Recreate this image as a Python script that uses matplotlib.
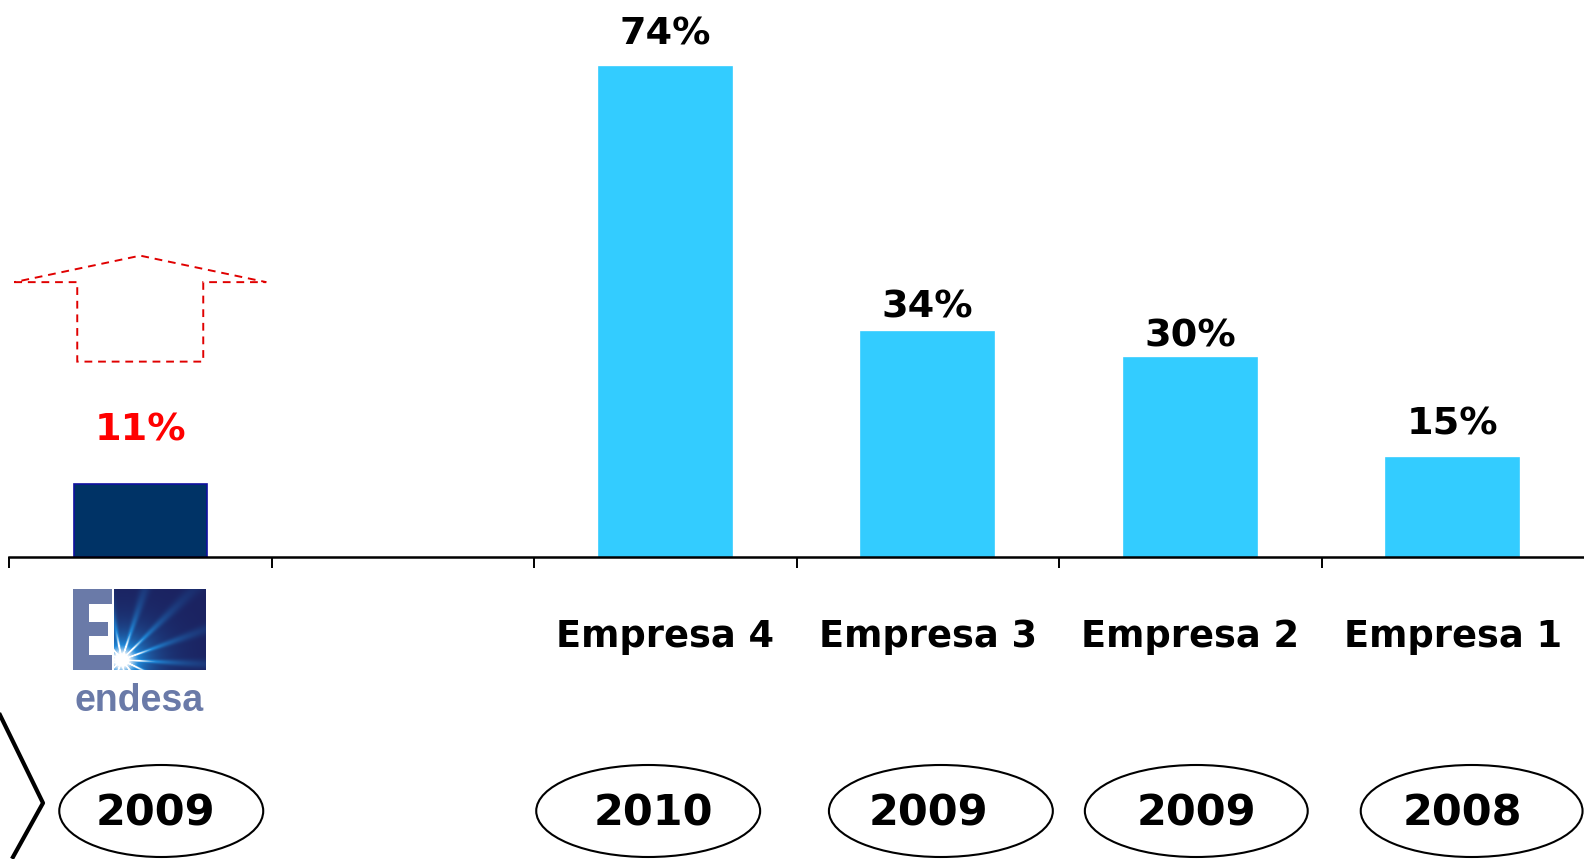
import numpy as np
import matplotlib
matplotlib.use("Agg")
import matplotlib.pyplot as plt
from matplotlib.patches import Ellipse, Rectangle, Polygon
from matplotlib.transforms import blended_transform_factory

# ---- data ----
categories = ["Endesa", "", "Empresa 4", "Empresa 3", "Empresa 2", "Empresa 1"]
values = [11, np.nan, 74, 34, 30, 15]
labels = ["11%", "", "74%", "34%", "30%", "15%"]
years = ["2009", "", "2010", "2009", "2009", "2008"]

# ---- style ----
W, H = 1584, 859
bar_colors = ["#003366", "none", "#33CCFF", "#33CCFF", "#33CCFF", "#33CCFF"]
bar_edges = ["#1010A0", "none", "#33CCFF", "#33CCFF", "#33CCFF", "#33CCFF"]
label_colors = ["#FF0000", "k", "k", "k", "k", "k"]
label_offset_px = [54, 0, 32, 24, 22, 33]
year_dx = [0.08, 0, -0.065, 0.05, 0.023, 0.072]
year_text_dx = [0.057, 0, -0.046, 0.004, 0.023, 0.038]
year_w = [0.777, 0, 0.853, 0.853, 0.849, 0.845]
logo_category = "Endesa"  # shown as a logo instead of a text label

fig = plt.figure(figsize=(W / 100, H / 100), dpi=100)
ax = fig.add_axes([9 / W, 302 / H, 1575 / W, 557 / H])

x = np.arange(len(categories))
ax.bar(x, values, width=0.506, color=bar_colors, edgecolor=bar_edges, linewidth=1.2, zorder=2)
ax.set_xlim(-0.5, 5.5)
ax.set_ylim(0, 84.1)

for spine in ["left", "right", "top"]:
    ax.spines[spine].set_visible(False)
ax.spines["bottom"].set_linewidth(1.8)
ax.set_yticks([])

ax.set_xticks(x)
ax.set_xticklabels(["" if c == logo_category else c for c in categories],
                   fontsize=26.5, fontweight="bold")
ax.tick_params(axis="x", which="major", length=0, pad=44)
ax.set_xticks(np.arange(-0.5, 5.0, 1.0), minor=True)
ax.tick_params(axis="x", which="minor", length=8, width=1.4, direction="out")

for xi, v, lab, c, off in zip(x, values, labels, label_colors, label_offset_px):
    if np.isnan(v):
        continue
    ax.annotate(lab, (xi, v), xytext=(0, off * 0.72), textcoords="offset points",
                ha="center", va="center", fontsize=27.5, fontweight="bold", color=c)

# red dashed up-arrow above the Endesa bar
arrow = Polygon([(-0.48, 41.5), (-0.24, 41.5), (-0.24, 29.5), (0.24, 29.5), (0.24, 41.5),
                 (0.48, 41.5), (0.0, 45.5)], closed=True, fill=False, edgecolor="#E00000",
                linestyle=(0, (4, 3)), linewidth=1.4, clip_on=False)
ax.add_patch(arrow)

# year ellipses
bt = blended_transform_factory(ax.transData, fig.transFigure)
for xi, yr, dx, tdx, ew in zip(x, years, year_dx, year_text_dx, year_w):
    if not yr:
        continue
    e = Ellipse((xi + dx, 1 - 811 / H), width=ew, height=92 / H, transform=bt,
                fill=False, edgecolor="k", linewidth=1.5, clip_on=False)
    ax.add_patch(e)
    ax.text(xi + tdx, 1 - 814 / H, yr, transform=bt, ha="center", va="center",
            fontsize=31, fontweight="bold", clip_on=False)

# helper for figure pixel coords (decorations)
def P(px, py):
    return (px / W, 1 - py / H)

# chevron on the left edge
fig.add_artist(plt.Line2D([0 / W, 43 / W, 13 / W], [1 - 715 / H, 1 - 803 / H, 1 - 857 / H],
                          color="k", linewidth=3, transform=fig.transFigure))

# endesa logo
logo_grey = "#6A7AA8"
def rect(x0, y0, x1, y1, color, z=5):
    fig.add_artist(Rectangle(P(x0, y1), (x1 - x0) / W, (y1 - y0) / H, facecolor=color,
                             edgecolor="none", transform=fig.transFigure, zorder=z))

# glowing navy square
lax = fig.add_axes([114 / W, 1 - 670 / H, 91 / W, 81 / H], zorder=4)
lax.set_axis_off()
gx, gy = np.meshgrid(np.linspace(0, 1, 91), np.linspace(0, 1, 81))
r = np.hypot(gx - 0.08, gy - 0.12)
ang = np.arctan2(gy - 0.12, gx - 0.08)
rays = np.cos(ang * 7 + 0.4) ** 10
glow = np.clip(np.exp(-r * 5.0) * 1.4 + np.exp(-r * 2.0) * rays * 0.7, 0, 1)
base = np.array([0x1B, 0x22, 0x60]) / 255
mid = np.array([0x20, 0x88, 0xD8]) / 255
white = np.array([1.0, 1.0, 1.0])
g = glow[..., None]
a1 = np.clip(g * 1.8, 0, 1)
img = base * (1 - a1) + mid * a1
a2 = np.clip((g - 0.55) * 2.5, 0, 1)
img = img * (1 - a2) + white * a2
lax.imshow(img, origin="lower", aspect="auto", extent=(0, 1, 0, 1))
lax.set_xlim(0, 1)
lax.set_ylim(0, 1)

# the E
rect(73, 589, 89, 670, logo_grey)
rect(73, 589, 112, 604, logo_grey)
rect(73, 622, 108, 636, logo_grey)
rect(73, 655, 112, 670, logo_grey)
fig.text(139 / W, 1 - 711 / H, "endesa", ha="center", va="baseline", fontsize=27,
         family="Liberation Sans", fontweight="bold", color=logo_grey)

fig.savefig("out.png", dpi=100, facecolor="white")
